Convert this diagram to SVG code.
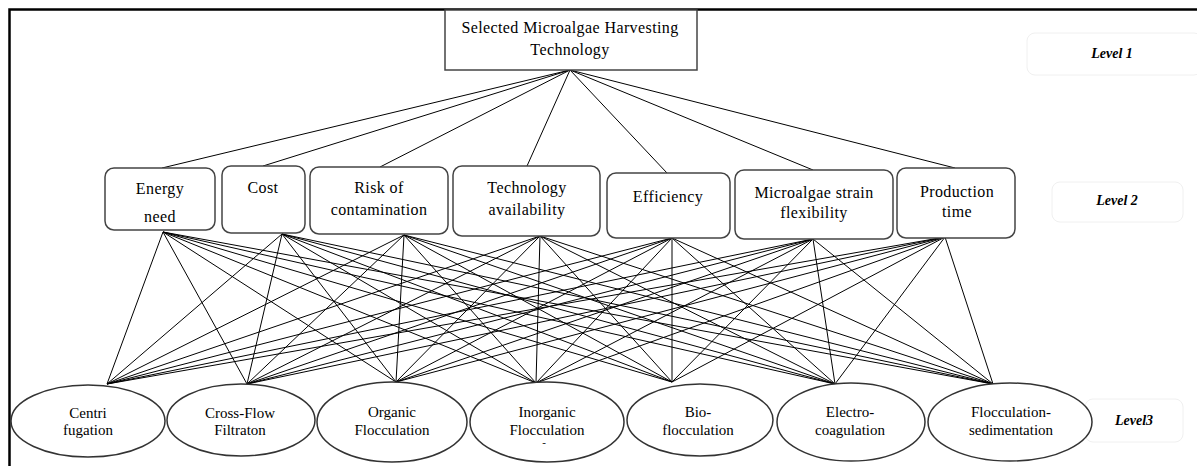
<svg xmlns="http://www.w3.org/2000/svg" width="1197" height="466" viewBox="0 0 1197 466" font-family="'Liberation Serif', 'Times New Roman', serif">
<style>
text{font-family:'Liberation Serif','Times New Roman',serif;fill:#000;text-anchor:middle}
.t2{font-size:16px;letter-spacing:0.4px}
.t3{font-size:15px}
.lv{font-size:14px;font-style:italic;font-weight:bold}
.box{fill:#fff;stroke:#444;stroke-width:1.5}
.rbox{fill:#fff;stroke:#444;stroke-width:1.5}
.ell{fill:#fff;stroke:#333;stroke-width:1.5}
.lvbox{fill:#fff;stroke:#f0f0f0;stroke-width:1}
.c line{stroke:#000;stroke-width:1}
</style>
<rect width="1197" height="466" fill="#fff"/>
<path d="M9.5 466 V9.5 H1197" fill="none" stroke="#000" stroke-width="2.5"/>
<g class="c" id="connectors">
<line x1="570" y1="70" x2="162" y2="168"/>
<line x1="570" y1="70" x2="263" y2="166"/>
<line x1="570" y1="70" x2="380" y2="167"/>
<line x1="570" y1="70" x2="527" y2="166"/>
<line x1="570" y1="70" x2="667" y2="173"/>
<line x1="570" y1="70" x2="813" y2="170"/>
<line x1="570" y1="70" x2="955" y2="168"/>
<line x1="163" y1="232" x2="107" y2="384"/><line x1="163" y1="232" x2="247" y2="384"/><line x1="163" y1="232" x2="396" y2="382"/><line x1="163" y1="232" x2="536" y2="383"/><line x1="163" y1="232" x2="672" y2="382"/><line x1="163" y1="232" x2="835" y2="384"/><line x1="163" y1="232" x2="993" y2="384"/>
<line x1="282" y1="234" x2="107" y2="384"/><line x1="282" y1="234" x2="247" y2="384"/><line x1="282" y1="234" x2="396" y2="382"/><line x1="282" y1="234" x2="536" y2="383"/><line x1="282" y1="234" x2="672" y2="382"/><line x1="282" y1="234" x2="835" y2="384"/><line x1="282" y1="234" x2="993" y2="384"/>
<line x1="404" y1="235" x2="107" y2="384"/><line x1="404" y1="235" x2="247" y2="384"/><line x1="404" y1="235" x2="396" y2="382"/><line x1="404" y1="235" x2="536" y2="383"/><line x1="404" y1="235" x2="672" y2="382"/><line x1="404" y1="235" x2="835" y2="384"/><line x1="404" y1="235" x2="993" y2="384"/>
<line x1="540" y1="236" x2="107" y2="384"/><line x1="540" y1="236" x2="247" y2="384"/><line x1="540" y1="236" x2="396" y2="382"/><line x1="540" y1="236" x2="536" y2="383"/><line x1="540" y1="236" x2="672" y2="382"/><line x1="540" y1="236" x2="835" y2="384"/><line x1="540" y1="236" x2="993" y2="384"/>
<line x1="672" y1="238" x2="107" y2="384"/><line x1="672" y1="238" x2="247" y2="384"/><line x1="672" y1="238" x2="396" y2="382"/><line x1="672" y1="238" x2="536" y2="383"/><line x1="672" y1="238" x2="672" y2="382"/><line x1="672" y1="238" x2="835" y2="384"/><line x1="672" y1="238" x2="993" y2="384"/>
<line x1="813" y1="239" x2="107" y2="384"/><line x1="813" y1="239" x2="247" y2="384"/><line x1="813" y1="239" x2="396" y2="382"/><line x1="813" y1="239" x2="536" y2="383"/><line x1="813" y1="239" x2="672" y2="382"/><line x1="813" y1="239" x2="835" y2="384"/><line x1="813" y1="239" x2="993" y2="384"/>
<line x1="945" y1="237" x2="107" y2="384"/><line x1="945" y1="237" x2="247" y2="384"/><line x1="945" y1="237" x2="396" y2="382"/><line x1="945" y1="237" x2="536" y2="383"/><line x1="945" y1="237" x2="672" y2="382"/><line x1="945" y1="237" x2="835" y2="384"/><line x1="945" y1="237" x2="993" y2="384"/>
</g>
<g id="goal">
<rect class="box" x="445" y="10" width="252" height="60"/>
<text class="t2" x="570" y="33">Selected Microalgae Harvesting</text>
<text class="t2" x="570" y="55">Technology</text>
</g>
<g id="level1"><rect class="lvbox" x="1027" y="33" width="175" height="42" rx="8"/><text class="lv" x="1112" y="58">Level 1</text></g>
<g id="level2"><rect class="lvbox" x="1052" y="182" width="131" height="40" rx="8"/><text class="lv" x="1117" y="205">Level 2</text></g>
<g id="level3"><rect class="lvbox" x="1085" y="399" width="98" height="43" rx="8"/><text class="lv" x="1134" y="425">Level3</text></g>
<g id="energy"><rect class="rbox" x="105" y="168" width="110" height="62" rx="9"/><text class="t2" x="160" y="194">Energy</text><text class="t2" x="160" y="222">need</text></g>
<g id="cost"><rect class="rbox" x="222" y="166" width="83" height="67" rx="9"/><text class="t2" x="263" y="193">Cost</text></g>
<g id="risk"><rect class="rbox" x="310" y="167" width="138" height="67" rx="9"/><text class="t2" x="379" y="193">Risk of</text><text class="t2" x="379" y="215">contamination</text></g>
<g id="techavail"><rect class="rbox" x="453" y="166" width="147" height="70" rx="9"/><text class="t2" x="527" y="193">Technology</text><text class="t2" x="527" y="215">availability</text></g>
<g id="efficiency"><rect class="rbox" x="607" y="173" width="123" height="65" rx="9"/><text class="t2" x="668" y="202">Efficiency</text></g>
<g id="flexibility"><rect class="rbox" x="735" y="170" width="158" height="69" rx="9"/><text class="t2" x="814" y="198">Microalgae strain</text><text class="t2" x="814" y="218">flexibility</text></g>
<g id="prodtime"><rect class="rbox" x="897" y="168" width="118" height="70" rx="9"/><text class="t2" x="957" y="197">Production</text><text class="t2" x="957" y="217">time</text></g>
<g id="centrifugation"><ellipse class="ell" cx="88" cy="421" rx="77" ry="36"/><text class="t3" x="88" y="418">Centri</text><text class="t3" x="88" y="435">fugation</text></g>
<g id="crossflow"><ellipse class="ell" cx="241" cy="420" rx="74" ry="36"/><text class="t3" x="240" y="418">Cross-Flow</text><text class="t3" x="240" y="435">Filtraton</text></g>
<g id="organic"><ellipse class="ell" cx="392" cy="422" rx="75" ry="40"/><text class="t3" x="392" y="417">Organic</text><text class="t3" x="392" y="435">Flocculation</text></g>
<g id="inorganic"><ellipse class="ell" cx="547" cy="422" rx="77" ry="40"/><text class="t3" x="547" y="417">Inorganic</text><text class="t3" x="547" y="435">Flocculation</text><text class="t3" x="544" y="446" style="font-size:11px">-</text></g>
<g id="bio"><ellipse class="ell" cx="700" cy="420" rx="73" ry="36"/><text class="t3" x="698" y="417">Bio-</text><text class="t3" x="698" y="435">flocculation</text></g>
<g id="electro"><ellipse class="ell" cx="851" cy="422" rx="74" ry="39"/><text class="t3" x="850" y="417">Electro-</text><text class="t3" x="850" y="435">coagulation</text></g>
<g id="flocsed"><ellipse class="ell" cx="1010" cy="422" rx="82" ry="39"/><text class="t3" x="1011" y="417">Flocculation-</text><text class="t3" x="1011" y="435">sedimentation</text></g>
</svg>
